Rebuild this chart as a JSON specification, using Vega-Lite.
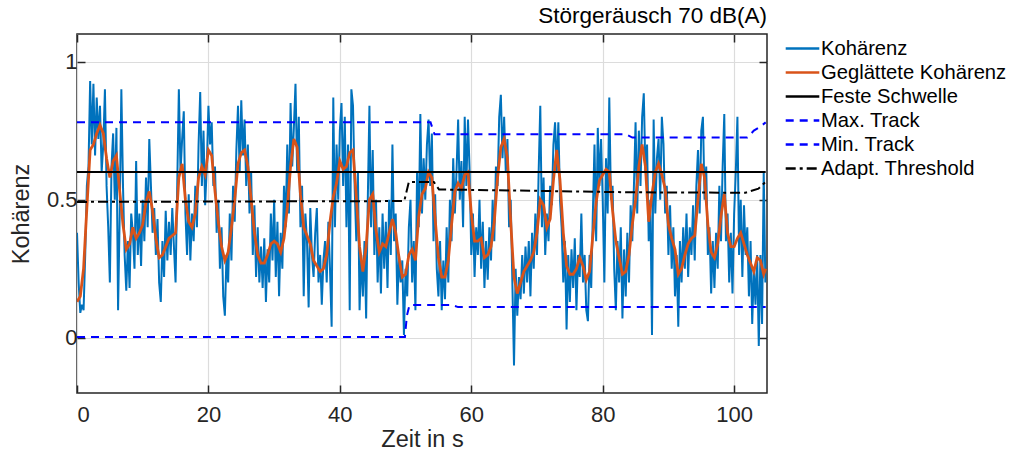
{
"$schema": "https://vega.github.io/schema/vega-lite/v6.json",
"width": 690, "height": 359,
"autosize": {"type": "none"},
"padding": {"left": 77, "top": 34, "right": 244, "bottom": 59},
"background": "white",
"title": {"text": "Störgeräusch 70 dB(A)", "anchor": "end", "frame": "group", "fontSize": 22.5, "fontWeight": "normal", "font": "Liberation Sans", "color": "#000000", "offset": 6},
"config": {
  "font": "Liberation Sans",
  "view": {"stroke": "#262626", "strokeWidth": 1.5},
  "axis": {"labelFont": "Liberation Sans", "titleFont": "Liberation Sans", "labelColor": "#262626", "titleColor": "#262626", "labelFontSize": 22, "titleFontSize": 23.5, "titleFontWeight": "normal", "tickColor": "#262626", "tickWidth": 1.5, "domain": false, "gridColor": "#dcdcdc", "gridWidth": 1.2, "gridOpacity": 1},
  "legend": {"title": null, "orient": "none", "legendX": 712, "legendY": 1, "symbolType": "M-1.4,0H1.4", "symbolSize": 576, "symbolStrokeWidth": 2.4, "labelFontSize": 20.2, "labelFont": "Liberation Sans", "labelColor": "#000000", "labelOffset": 5, "rowPadding": 0, "padding": 0, "labelLimit": 300}
},
"data": {"values": [
{"s":"Kohärenz","t":0,"v":0.38},{"s":"Kohärenz","t":0.25,"v":0.20},{"s":"Kohärenz","t":0.5,"v":0.09},{"s":"Kohärenz","t":0.75,"v":0.12},
{"s":"Kohärenz","t":1,"v":0.10},{"s":"Kohärenz","t":1.25,"v":0.30},{"s":"Kohärenz","t":1.5,"v":0.55},{"s":"Kohärenz","t":1.75,"v":0.62},
{"s":"Kohärenz","t":2,"v":0.93},{"s":"Kohärenz","t":2.25,"v":0.70},{"s":"Kohärenz","t":2.5,"v":0.92},{"s":"Kohärenz","t":2.75,"v":0.66},
{"s":"Kohärenz","t":3,"v":0.87},{"s":"Kohärenz","t":3.25,"v":0.72},{"s":"Kohärenz","t":3.5,"v":0.84},{"s":"Kohärenz","t":3.75,"v":0.60},
{"s":"Kohärenz","t":4,"v":0.70},{"s":"Kohärenz","t":4.25,"v":0.90},{"s":"Kohärenz","t":4.5,"v":0.55},{"s":"Kohärenz","t":4.75,"v":0.40},
{"s":"Kohärenz","t":5,"v":0.20},{"s":"Kohärenz","t":5.25,"v":0.62},{"s":"Kohärenz","t":5.5,"v":0.74},{"s":"Kohärenz","t":5.75,"v":0.50},
{"s":"Kohärenz","t":6,"v":0.76},{"s":"Kohärenz","t":6.25,"v":0.10},{"s":"Kohärenz","t":6.5,"v":0.45},{"s":"Kohärenz","t":6.75,"v":0.90},
{"s":"Kohärenz","t":7,"v":0.55},{"s":"Kohärenz","t":7.25,"v":0.30},{"s":"Kohärenz","t":7.5,"v":0.17},{"s":"Kohärenz","t":7.75,"v":0.35},
{"s":"Kohärenz","t":8,"v":0.18},{"s":"Kohärenz","t":8.25,"v":0.45},{"s":"Kohärenz","t":8.5,"v":0.38},{"s":"Kohärenz","t":8.75,"v":0.25},
{"s":"Kohärenz","t":9,"v":0.64},{"s":"Kohärenz","t":9.25,"v":0.30},{"s":"Kohärenz","t":9.5,"v":0.45},{"s":"Kohärenz","t":9.75,"v":0.26},
{"s":"Kohärenz","t":10,"v":0.50},{"s":"Kohärenz","t":10.25,"v":0.35},{"s":"Kohärenz","t":10.5,"v":0.58},{"s":"Kohärenz","t":10.75,"v":0.40},
{"s":"Kohärenz","t":11,"v":0.72},{"s":"Kohärenz","t":11.25,"v":0.55},{"s":"Kohärenz","t":11.5,"v":0.38},{"s":"Kohärenz","t":11.75,"v":0.47},
{"s":"Kohärenz","t":12,"v":0.30},{"s":"Kohärenz","t":12.25,"v":0.43},{"s":"Kohärenz","t":12.5,"v":0.20},{"s":"Kohärenz","t":12.75,"v":0.13},
{"s":"Kohärenz","t":13,"v":0.35},{"s":"Kohärenz","t":13.25,"v":0.22},{"s":"Kohärenz","t":13.5,"v":0.46},{"s":"Kohärenz","t":13.75,"v":0.28},
{"s":"Kohärenz","t":14,"v":0.42},{"s":"Kohärenz","t":14.25,"v":0.30},{"s":"Kohärenz","t":14.5,"v":0.47},{"s":"Kohärenz","t":14.75,"v":0.33},
{"s":"Kohärenz","t":15,"v":0.20},{"s":"Kohärenz","t":15.25,"v":0.55},{"s":"Kohärenz","t":15.5,"v":0.90},{"s":"Kohärenz","t":15.75,"v":0.60},
{"s":"Kohärenz","t":16,"v":0.72},{"s":"Kohärenz","t":16.25,"v":0.82},{"s":"Kohärenz","t":16.5,"v":0.45},{"s":"Kohärenz","t":16.75,"v":0.30},
{"s":"Kohärenz","t":17,"v":0.52},{"s":"Kohärenz","t":17.25,"v":0.28},{"s":"Kohärenz","t":17.5,"v":0.45},{"s":"Kohärenz","t":17.75,"v":0.35},
{"s":"Kohärenz","t":18,"v":0.55},{"s":"Kohärenz","t":18.25,"v":0.40},{"s":"Kohärenz","t":18.5,"v":0.70},{"s":"Kohärenz","t":18.75,"v":0.89},
{"s":"Kohärenz","t":19,"v":0.55},{"s":"Kohärenz","t":19.25,"v":0.75},{"s":"Kohärenz","t":19.5,"v":0.48},{"s":"Kohärenz","t":19.75,"v":0.62},
{"s":"Kohärenz","t":20,"v":0.84},{"s":"Kohärenz","t":20.25,"v":0.70},{"s":"Kohärenz","t":20.5,"v":0.78},{"s":"Kohärenz","t":20.75,"v":0.55},
{"s":"Kohärenz","t":21,"v":0.62},{"s":"Kohärenz","t":21.25,"v":0.38},{"s":"Kohärenz","t":21.5,"v":0.50},{"s":"Kohärenz","t":21.75,"v":0.25},
{"s":"Kohärenz","t":22,"v":0.40},{"s":"Kohärenz","t":22.25,"v":0.15},{"s":"Kohärenz","t":22.5,"v":0.08},{"s":"Kohärenz","t":22.75,"v":0.30},
{"s":"Kohärenz","t":23,"v":0.20},{"s":"Kohärenz","t":23.25,"v":0.45},{"s":"Kohärenz","t":23.5,"v":0.28},{"s":"Kohärenz","t":23.75,"v":0.55},
{"s":"Kohärenz","t":24,"v":0.42},{"s":"Kohärenz","t":24.25,"v":0.68},{"s":"Kohärenz","t":24.5,"v":0.84},{"s":"Kohärenz","t":24.75,"v":0.60},
{"s":"Kohärenz","t":25,"v":0.86},{"s":"Kohärenz","t":25.25,"v":0.66},{"s":"Kohärenz","t":25.5,"v":0.79},{"s":"Kohärenz","t":25.75,"v":0.55},
{"s":"Kohärenz","t":26,"v":0.70},{"s":"Kohärenz","t":26.25,"v":0.45},{"s":"Kohärenz","t":26.5,"v":0.60},{"s":"Kohärenz","t":26.75,"v":0.30},
{"s":"Kohärenz","t":27,"v":0.48},{"s":"Kohärenz","t":27.25,"v":0.22},{"s":"Kohärenz","t":27.5,"v":0.40},{"s":"Kohärenz","t":27.75,"v":0.20},
{"s":"Kohärenz","t":28,"v":0.33},{"s":"Kohärenz","t":28.25,"v":0.18},{"s":"Kohärenz","t":28.5,"v":0.36},{"s":"Kohärenz","t":28.75,"v":0.13},
{"s":"Kohärenz","t":29,"v":0.32},{"s":"Kohärenz","t":29.25,"v":0.20},{"s":"Kohärenz","t":29.5,"v":0.45},{"s":"Kohärenz","t":29.75,"v":0.28},
{"s":"Kohärenz","t":30,"v":0.50},{"s":"Kohärenz","t":30.25,"v":0.22},{"s":"Kohärenz","t":30.5,"v":0.42},{"s":"Kohärenz","t":30.75,"v":0.15},
{"s":"Kohärenz","t":31,"v":0.38},{"s":"Kohärenz","t":31.25,"v":0.25},{"s":"Kohärenz","t":31.5,"v":0.55},{"s":"Kohärenz","t":31.75,"v":0.40},
{"s":"Kohärenz","t":32,"v":0.70},{"s":"Kohärenz","t":32.25,"v":0.45},{"s":"Kohärenz","t":32.5,"v":0.85},{"s":"Kohärenz","t":32.75,"v":0.62},
{"s":"Kohärenz","t":33,"v":0.76},{"s":"Kohärenz","t":33.25,"v":0.92},{"s":"Kohärenz","t":33.5,"v":0.60},{"s":"Kohärenz","t":33.75,"v":0.80},
{"s":"Kohärenz","t":34,"v":0.40},{"s":"Kohärenz","t":34.25,"v":0.55},{"s":"Kohärenz","t":34.5,"v":0.15},{"s":"Kohärenz","t":34.75,"v":0.45},
{"s":"Kohärenz","t":35,"v":0.35},{"s":"Kohärenz","t":35.25,"v":0.11},{"s":"Kohärenz","t":35.5,"v":0.47},{"s":"Kohärenz","t":35.75,"v":0.30},
{"s":"Kohärenz","t":36,"v":0.22},{"s":"Kohärenz","t":36.25,"v":0.38},{"s":"Kohärenz","t":36.5,"v":0.47},{"s":"Kohärenz","t":36.75,"v":0.20},
{"s":"Kohärenz","t":37,"v":0.30},{"s":"Kohärenz","t":37.25,"v":0.12},{"s":"Kohärenz","t":37.5,"v":0.28},{"s":"Kohärenz","t":37.75,"v":0.35},
{"s":"Kohärenz","t":38,"v":0.20},{"s":"Kohärenz","t":38.25,"v":0.42},{"s":"Kohärenz","t":38.5,"v":0.25},{"s":"Kohärenz","t":38.75,"v":0.04},
{"s":"Kohärenz","t":39,"v":0.87},{"s":"Kohärenz","t":39.25,"v":0.40},{"s":"Kohärenz","t":39.5,"v":0.70},{"s":"Kohärenz","t":39.75,"v":0.50},
{"s":"Kohärenz","t":40,"v":0.75},{"s":"Kohärenz","t":40.25,"v":0.85},{"s":"Kohärenz","t":40.5,"v":0.55},{"s":"Kohärenz","t":40.75,"v":0.80},
{"s":"Kohärenz","t":41,"v":0.40},{"s":"Kohärenz","t":41.25,"v":0.70},{"s":"Kohärenz","t":41.5,"v":0.10},{"s":"Kohärenz","t":41.75,"v":0.90},
{"s":"Kohärenz","t":42,"v":0.84},{"s":"Kohärenz","t":42.25,"v":0.55},{"s":"Kohärenz","t":42.5,"v":0.35},{"s":"Kohärenz","t":42.75,"v":0.60},
{"s":"Kohärenz","t":43,"v":0.10},{"s":"Kohärenz","t":43.25,"v":0.30},{"s":"Kohärenz","t":43.5,"v":0.15},{"s":"Kohärenz","t":43.75,"v":0.35},
{"s":"Kohärenz","t":44,"v":0.07},{"s":"Kohärenz","t":44.25,"v":0.50},{"s":"Kohärenz","t":44.5,"v":0.84},{"s":"Kohärenz","t":44.75,"v":0.40},
{"s":"Kohärenz","t":45,"v":0.68},{"s":"Kohärenz","t":45.25,"v":0.30},{"s":"Kohärenz","t":45.5,"v":0.50},{"s":"Kohärenz","t":45.75,"v":0.20},
{"s":"Kohärenz","t":46,"v":0.40},{"s":"Kohärenz","t":46.25,"v":0.16},{"s":"Kohärenz","t":46.5,"v":0.45},{"s":"Kohärenz","t":46.75,"v":0.25},
{"s":"Kohärenz","t":47,"v":0.42},{"s":"Kohärenz","t":47.25,"v":0.18},{"s":"Kohärenz","t":47.5,"v":0.50},{"s":"Kohärenz","t":47.75,"v":0.30},
{"s":"Kohärenz","t":48,"v":0.70},{"s":"Kohärenz","t":48.25,"v":0.35},{"s":"Kohärenz","t":48.5,"v":0.45},{"s":"Kohärenz","t":48.75,"v":0.12},
{"s":"Kohärenz","t":49,"v":0.30},{"s":"Kohärenz","t":49.25,"v":0.20},{"s":"Kohärenz","t":49.5,"v":0.28},{"s":"Kohärenz","t":49.75,"v":0.01},
{"s":"Kohärenz","t":50,"v":0.25},{"s":"Kohärenz","t":50.25,"v":0.15},{"s":"Kohärenz","t":50.5,"v":0.40},{"s":"Kohärenz","t":50.75,"v":0.50},
{"s":"Kohärenz","t":51,"v":0.20},{"s":"Kohärenz","t":51.25,"v":0.35},{"s":"Kohärenz","t":51.5,"v":0.10},{"s":"Kohärenz","t":51.75,"v":0.60},
{"s":"Kohärenz","t":52,"v":0.40},{"s":"Kohärenz","t":52.25,"v":0.81},{"s":"Kohärenz","t":52.5,"v":0.45},{"s":"Kohärenz","t":52.75,"v":0.65},
{"s":"Kohärenz","t":53,"v":0.50},{"s":"Kohärenz","t":53.25,"v":0.70},{"s":"Kohärenz","t":53.5,"v":0.79},{"s":"Kohärenz","t":53.75,"v":0.55},
{"s":"Kohärenz","t":54,"v":0.74},{"s":"Kohärenz","t":54.25,"v":0.35},{"s":"Kohärenz","t":54.5,"v":0.52},{"s":"Kohärenz","t":54.75,"v":0.25},
{"s":"Kohärenz","t":55,"v":0.15},{"s":"Kohärenz","t":55.25,"v":0.35},{"s":"Kohärenz","t":55.5,"v":0.10},{"s":"Kohärenz","t":55.75,"v":0.28},
{"s":"Kohärenz","t":56,"v":0.14},{"s":"Kohärenz","t":56.25,"v":0.40},{"s":"Kohärenz","t":56.5,"v":0.20},{"s":"Kohärenz","t":56.75,"v":0.50},
{"s":"Kohärenz","t":57,"v":0.35},{"s":"Kohärenz","t":57.25,"v":0.65},{"s":"Kohärenz","t":57.5,"v":0.45},{"s":"Kohärenz","t":57.75,"v":0.60},
{"s":"Kohärenz","t":58,"v":0.79},{"s":"Kohärenz","t":58.25,"v":0.50},{"s":"Kohärenz","t":58.5,"v":0.64},{"s":"Kohärenz","t":58.75,"v":0.40},
{"s":"Kohärenz","t":59,"v":0.80},{"s":"Kohärenz","t":59.25,"v":0.55},{"s":"Kohärenz","t":59.5,"v":0.79},{"s":"Kohärenz","t":59.75,"v":0.60},
{"s":"Kohärenz","t":60,"v":0.30},{"s":"Kohärenz","t":60.25,"v":0.45},{"s":"Kohärenz","t":60.5,"v":0.22},{"s":"Kohärenz","t":60.75,"v":0.40},
{"s":"Kohärenz","t":61,"v":0.30},{"s":"Kohärenz","t":61.25,"v":0.50},{"s":"Kohärenz","t":61.5,"v":0.25},{"s":"Kohärenz","t":61.75,"v":0.42},
{"s":"Kohärenz","t":62,"v":0.18},{"s":"Kohärenz","t":62.25,"v":0.35},{"s":"Kohärenz","t":62.5,"v":0.21},{"s":"Kohärenz","t":62.75,"v":0.40},
{"s":"Kohärenz","t":63,"v":0.28},{"s":"Kohärenz","t":63.25,"v":0.50},{"s":"Kohärenz","t":63.5,"v":0.35},{"s":"Kohärenz","t":63.75,"v":0.62},
{"s":"Kohärenz","t":64,"v":0.55},{"s":"Kohärenz","t":64.25,"v":0.80},{"s":"Kohärenz","t":64.5,"v":0.88},{"s":"Kohärenz","t":64.75,"v":0.65},
{"s":"Kohärenz","t":65,"v":0.80},{"s":"Kohärenz","t":65.25,"v":0.60},{"s":"Kohärenz","t":65.5,"v":0.72},{"s":"Kohärenz","t":65.75,"v":0.40},
{"s":"Kohärenz","t":66,"v":0.50},{"s":"Kohärenz","t":66.25,"v":0.20},{"s":"Kohärenz","t":66.5,"v":-0.10},{"s":"Kohärenz","t":66.75,"v":0.25},
{"s":"Kohärenz","t":67,"v":0.08},{"s":"Kohärenz","t":67.25,"v":0.22},{"s":"Kohärenz","t":67.5,"v":0.14},{"s":"Kohärenz","t":67.75,"v":0.30},
{"s":"Kohärenz","t":68,"v":0.16},{"s":"Kohärenz","t":68.25,"v":0.33},{"s":"Kohärenz","t":68.5,"v":0.20},{"s":"Kohärenz","t":68.75,"v":0.35},
{"s":"Kohärenz","t":69,"v":0.15},{"s":"Kohärenz","t":69.25,"v":0.38},{"s":"Kohärenz","t":69.5,"v":0.25},{"s":"Kohärenz","t":69.75,"v":0.45},
{"s":"Kohärenz","t":70,"v":0.30},{"s":"Kohärenz","t":70.25,"v":0.60},{"s":"Kohärenz","t":70.5,"v":0.84},{"s":"Kohärenz","t":70.75,"v":0.40},
{"s":"Kohärenz","t":71,"v":0.58},{"s":"Kohärenz","t":71.25,"v":0.30},{"s":"Kohärenz","t":71.5,"v":0.45},{"s":"Kohärenz","t":71.75,"v":0.35},
{"s":"Kohärenz","t":72,"v":0.55},{"s":"Kohärenz","t":72.25,"v":0.48},{"s":"Kohärenz","t":72.5,"v":0.70},{"s":"Kohärenz","t":72.75,"v":0.78},
{"s":"Kohärenz","t":73,"v":0.60},{"s":"Kohärenz","t":73.25,"v":0.78},{"s":"Kohärenz","t":73.5,"v":0.50},{"s":"Kohärenz","t":73.75,"v":0.40},
{"s":"Kohärenz","t":74,"v":0.20},{"s":"Kohärenz","t":74.25,"v":0.35},{"s":"Kohärenz","t":74.5,"v":0.03},{"s":"Kohärenz","t":74.75,"v":0.30},
{"s":"Kohärenz","t":75,"v":0.13},{"s":"Kohärenz","t":75.25,"v":0.32},{"s":"Kohärenz","t":75.5,"v":0.18},{"s":"Kohärenz","t":75.75,"v":0.36},
{"s":"Kohärenz","t":76,"v":0.10},{"s":"Kohärenz","t":76.25,"v":0.30},{"s":"Kohärenz","t":76.5,"v":0.22},{"s":"Kohärenz","t":76.75,"v":0.45},
{"s":"Kohärenz","t":77,"v":0.20},{"s":"Kohärenz","t":77.25,"v":0.30},{"s":"Kohärenz","t":77.5,"v":0.10},{"s":"Kohärenz","t":77.75,"v":0.06},
{"s":"Kohärenz","t":78,"v":0.30},{"s":"Kohärenz","t":78.25,"v":0.18},{"s":"Kohärenz","t":78.5,"v":0.45},{"s":"Kohärenz","t":78.75,"v":0.70},
{"s":"Kohärenz","t":79,"v":0.35},{"s":"Kohärenz","t":79.25,"v":0.76},{"s":"Kohärenz","t":79.5,"v":0.55},{"s":"Kohärenz","t":79.75,"v":0.72},
{"s":"Kohärenz","t":80,"v":0.50},{"s":"Kohärenz","t":80.25,"v":0.20},{"s":"Kohärenz","t":80.5,"v":0.65},{"s":"Kohärenz","t":80.75,"v":0.45},
{"s":"Kohärenz","t":81,"v":0.87},{"s":"Kohärenz","t":81.25,"v":0.50},{"s":"Kohärenz","t":81.5,"v":0.55},{"s":"Kohärenz","t":81.75,"v":0.25},
{"s":"Kohärenz","t":82,"v":0.10},{"s":"Kohärenz","t":82.25,"v":0.35},{"s":"Kohärenz","t":82.5,"v":0.20},{"s":"Kohärenz","t":82.75,"v":0.40},
{"s":"Kohärenz","t":83,"v":0.07},{"s":"Kohärenz","t":83.25,"v":0.32},{"s":"Kohärenz","t":83.5,"v":0.15},{"s":"Kohärenz","t":83.75,"v":0.38},
{"s":"Kohärenz","t":84,"v":0.20},{"s":"Kohärenz","t":84.25,"v":0.48},{"s":"Kohärenz","t":84.5,"v":0.35},{"s":"Kohärenz","t":84.75,"v":0.55},
{"s":"Kohärenz","t":85,"v":0.78},{"s":"Kohärenz","t":85.25,"v":0.45},{"s":"Kohärenz","t":85.5,"v":0.75},{"s":"Kohärenz","t":85.75,"v":0.55},
{"s":"Kohärenz","t":86,"v":0.80},{"s":"Kohärenz","t":86.25,"v":0.885},{"s":"Kohärenz","t":86.5,"v":0.60},{"s":"Kohärenz","t":86.75,"v":0.70},
{"s":"Kohärenz","t":87,"v":0.35},{"s":"Kohärenz","t":87.25,"v":0.50},{"s":"Kohärenz","t":87.5,"v":0.01},{"s":"Kohärenz","t":87.75,"v":0.79},
{"s":"Kohärenz","t":88,"v":0.45},{"s":"Kohärenz","t":88.25,"v":0.65},{"s":"Kohärenz","t":88.5,"v":0.72},{"s":"Kohärenz","t":88.75,"v":0.50},
{"s":"Kohärenz","t":89,"v":0.80},{"s":"Kohärenz","t":89.25,"v":0.70},{"s":"Kohärenz","t":89.5,"v":0.45},{"s":"Kohärenz","t":89.75,"v":0.55},
{"s":"Kohärenz","t":90,"v":0.30},{"s":"Kohärenz","t":90.25,"v":0.48},{"s":"Kohärenz","t":90.5,"v":0.25},{"s":"Kohärenz","t":90.75,"v":0.40},
{"s":"Kohärenz","t":91,"v":0.15},{"s":"Kohärenz","t":91.25,"v":0.30},{"s":"Kohärenz","t":91.5,"v":0.04},{"s":"Kohärenz","t":91.75,"v":0.35},
{"s":"Kohärenz","t":92,"v":0.20},{"s":"Kohärenz","t":92.25,"v":0.40},{"s":"Kohärenz","t":92.5,"v":0.25},{"s":"Kohärenz","t":92.75,"v":0.45},
{"s":"Kohärenz","t":93,"v":0.22},{"s":"Kohärenz","t":93.25,"v":0.40},{"s":"Kohärenz","t":93.5,"v":0.30},{"s":"Kohärenz","t":93.75,"v":0.48},
{"s":"Kohärenz","t":94,"v":0.28},{"s":"Kohärenz","t":94.25,"v":0.55},{"s":"Kohärenz","t":94.5,"v":0.68},{"s":"Kohärenz","t":94.75,"v":0.45},
{"s":"Kohärenz","t":95,"v":0.75},{"s":"Kohärenz","t":95.25,"v":0.80},{"s":"Kohärenz","t":95.5,"v":0.50},{"s":"Kohärenz","t":95.75,"v":0.62},
{"s":"Kohärenz","t":96,"v":0.30},{"s":"Kohärenz","t":96.25,"v":0.40},{"s":"Kohärenz","t":96.5,"v":0.16},{"s":"Kohärenz","t":96.75,"v":0.35},
{"s":"Kohärenz","t":97,"v":0.18},{"s":"Kohärenz","t":97.25,"v":0.38},{"s":"Kohärenz","t":97.5,"v":0.25},{"s":"Kohärenz","t":97.75,"v":0.55},
{"s":"Kohärenz","t":98,"v":0.35},{"s":"Kohärenz","t":98.25,"v":0.62},{"s":"Kohärenz","t":98.5,"v":0.81},{"s":"Kohärenz","t":98.75,"v":0.35},
{"s":"Kohärenz","t":99,"v":0.45},{"s":"Kohärenz","t":99.25,"v":0.20},{"s":"Kohärenz","t":99.5,"v":0.38},{"s":"Kohärenz","t":99.75,"v":0.16},
{"s":"Kohärenz","t":100,"v":0.45},{"s":"Kohärenz","t":100.25,"v":0.60},{"s":"Kohärenz","t":100.5,"v":0.80},{"s":"Kohärenz","t":100.75,"v":0.30},
{"s":"Kohärenz","t":101,"v":0.50},{"s":"Kohärenz","t":101.25,"v":0.22},{"s":"Kohärenz","t":101.5,"v":0.48},{"s":"Kohärenz","t":101.75,"v":0.30},
{"s":"Kohärenz","t":102,"v":0.40},{"s":"Kohärenz","t":102.25,"v":0.15},{"s":"Kohärenz","t":102.5,"v":0.35},{"s":"Kohärenz","t":102.75,"v":0.05},
{"s":"Kohärenz","t":103,"v":0.25},{"s":"Kohärenz","t":103.25,"v":0.12},{"s":"Kohärenz","t":103.5,"v":0.30},{"s":"Kohärenz","t":103.75,"v":-0.03},
{"s":"Kohärenz","t":104,"v":0.30},{"s":"Kohärenz","t":104.25,"v":0.05},{"s":"Kohärenz","t":104.5,"v":0.60},{"s":"Kohärenz","t":104.75,"v":0.20},
{"s":"Geglättete Kohärenz","t":0,"v":0.13},{"s":"Geglättete Kohärenz","t":0.5,"v":0.15},{"s":"Geglättete Kohärenz","t":1,"v":0.25},{"s":"Geglättete Kohärenz","t":1.5,"v":0.47},
{"s":"Geglättete Kohärenz","t":2,"v":0.68},{"s":"Geglättete Kohärenz","t":2.5,"v":0.70},{"s":"Geglättete Kohärenz","t":3,"v":0.74},{"s":"Geglättete Kohärenz","t":3.5,"v":0.77},
{"s":"Geglättete Kohärenz","t":4,"v":0.74},{"s":"Geglättete Kohärenz","t":4.5,"v":0.65},{"s":"Geglättete Kohärenz","t":5,"v":0.58},{"s":"Geglättete Kohärenz","t":5.5,"v":0.64},
{"s":"Geglättete Kohärenz","t":6,"v":0.66},{"s":"Geglättete Kohärenz","t":6.5,"v":0.53},{"s":"Geglättete Kohärenz","t":7,"v":0.41},{"s":"Geglättete Kohärenz","t":7.5,"v":0.32},
{"s":"Geglättete Kohärenz","t":8,"v":0.34},{"s":"Geglättete Kohärenz","t":8.5,"v":0.40},{"s":"Geglättete Kohärenz","t":9,"v":0.36},{"s":"Geglättete Kohärenz","t":9.5,"v":0.38},
{"s":"Geglättete Kohärenz","t":10,"v":0.41},{"s":"Geglättete Kohärenz","t":10.5,"v":0.49},{"s":"Geglättete Kohärenz","t":11,"v":0.53},{"s":"Geglättete Kohärenz","t":11.5,"v":0.46},
{"s":"Geglättete Kohärenz","t":12,"v":0.36},{"s":"Geglättete Kohärenz","t":12.5,"v":0.29},{"s":"Geglättete Kohärenz","t":13,"v":0.30},{"s":"Geglättete Kohärenz","t":13.5,"v":0.33},
{"s":"Geglättete Kohärenz","t":14,"v":0.36},{"s":"Geglättete Kohärenz","t":14.5,"v":0.37},{"s":"Geglättete Kohärenz","t":15,"v":0.38},{"s":"Geglättete Kohärenz","t":15.5,"v":0.58},
{"s":"Geglättete Kohärenz","t":16,"v":0.63},{"s":"Geglättete Kohärenz","t":16.5,"v":0.50},{"s":"Geglättete Kohärenz","t":17,"v":0.42},{"s":"Geglättete Kohärenz","t":17.5,"v":0.40},
{"s":"Geglättete Kohärenz","t":18,"v":0.45},{"s":"Geglättete Kohärenz","t":18.5,"v":0.58},{"s":"Geglättete Kohärenz","t":19,"v":0.62},{"s":"Geglättete Kohärenz","t":19.5,"v":0.59},
{"s":"Geglättete Kohärenz","t":20,"v":0.68},{"s":"Geglättete Kohärenz","t":20.5,"v":0.66},{"s":"Geglättete Kohärenz","t":21,"v":0.53},{"s":"Geglättete Kohärenz","t":21.5,"v":0.42},
{"s":"Geglättete Kohärenz","t":22,"v":0.33},{"s":"Geglättete Kohärenz","t":22.5,"v":0.28},{"s":"Geglättete Kohärenz","t":23,"v":0.31},{"s":"Geglättete Kohärenz","t":23.5,"v":0.40},
{"s":"Geglättete Kohärenz","t":24,"v":0.50},{"s":"Geglättete Kohärenz","t":24.5,"v":0.63},{"s":"Geglättete Kohärenz","t":25,"v":0.67},{"s":"Geglättete Kohärenz","t":25.5,"v":0.68},
{"s":"Geglättete Kohärenz","t":26,"v":0.62},{"s":"Geglättete Kohärenz","t":26.5,"v":0.50},{"s":"Geglättete Kohärenz","t":27,"v":0.38},{"s":"Geglättete Kohärenz","t":27.5,"v":0.30},
{"s":"Geglättete Kohärenz","t":28,"v":0.27},{"s":"Geglättete Kohärenz","t":28.5,"v":0.27},{"s":"Geglättete Kohärenz","t":29,"v":0.30},{"s":"Geglättete Kohärenz","t":29.5,"v":0.34},
{"s":"Geglättete Kohärenz","t":30,"v":0.35},{"s":"Geglättete Kohärenz","t":30.5,"v":0.34},{"s":"Geglättete Kohärenz","t":31,"v":0.31},{"s":"Geglättete Kohärenz","t":31.5,"v":0.36},
{"s":"Geglättete Kohärenz","t":32,"v":0.47},{"s":"Geglättete Kohärenz","t":32.5,"v":0.62},{"s":"Geglättete Kohärenz","t":33,"v":0.72},{"s":"Geglättete Kohärenz","t":33.5,"v":0.69},
{"s":"Geglättete Kohärenz","t":34,"v":0.52},{"s":"Geglättete Kohärenz","t":34.5,"v":0.40},{"s":"Geglättete Kohärenz","t":35,"v":0.37},{"s":"Geglättete Kohärenz","t":35.5,"v":0.34},
{"s":"Geglättete Kohärenz","t":36,"v":0.28},{"s":"Geglättete Kohärenz","t":36.5,"v":0.26},{"s":"Geglättete Kohärenz","t":37,"v":0.24},{"s":"Geglättete Kohärenz","t":37.5,"v":0.25},
{"s":"Geglättete Kohärenz","t":38,"v":0.30},{"s":"Geglättete Kohärenz","t":38.5,"v":0.42},{"s":"Geglättete Kohärenz","t":39,"v":0.51},{"s":"Geglättete Kohärenz","t":39.5,"v":0.56},
{"s":"Geglättete Kohärenz","t":40,"v":0.64},{"s":"Geglättete Kohärenz","t":40.5,"v":0.61},{"s":"Geglättete Kohärenz","t":41,"v":0.62},{"s":"Geglättete Kohärenz","t":41.5,"v":0.67},
{"s":"Geglättete Kohärenz","t":42,"v":0.68},{"s":"Geglättete Kohärenz","t":42.5,"v":0.51},{"s":"Geglättete Kohärenz","t":43,"v":0.33},{"s":"Geglättete Kohärenz","t":43.5,"v":0.24},
{"s":"Geglättete Kohärenz","t":44,"v":0.33},{"s":"Geglättete Kohärenz","t":44.5,"v":0.50},{"s":"Geglättete Kohärenz","t":45,"v":0.52},{"s":"Geglättete Kohärenz","t":45.5,"v":0.39},
{"s":"Geglättete Kohärenz","t":46,"v":0.31},{"s":"Geglättete Kohärenz","t":46.5,"v":0.34},{"s":"Geglättete Kohärenz","t":47,"v":0.33},{"s":"Geglättete Kohärenz","t":47.5,"v":0.38},
{"s":"Geglättete Kohärenz","t":48,"v":0.43},{"s":"Geglättete Kohärenz","t":48.5,"v":0.38},{"s":"Geglättete Kohärenz","t":49,"v":0.29},{"s":"Geglättete Kohärenz","t":49.5,"v":0.22},
{"s":"Geglättete Kohärenz","t":50,"v":0.23},{"s":"Geglättete Kohärenz","t":50.5,"v":0.30},{"s":"Geglättete Kohärenz","t":51,"v":0.32},{"s":"Geglättete Kohärenz","t":51.5,"v":0.28},
{"s":"Geglättete Kohärenz","t":52,"v":0.44},{"s":"Geglättete Kohärenz","t":52.5,"v":0.52},{"s":"Geglättete Kohärenz","t":53,"v":0.54},{"s":"Geglättete Kohärenz","t":53.5,"v":0.60},
{"s":"Geglättete Kohärenz","t":54,"v":0.58},{"s":"Geglättete Kohärenz","t":54.5,"v":0.43},{"s":"Geglättete Kohärenz","t":55,"v":0.29},{"s":"Geglättete Kohärenz","t":55.5,"v":0.22},
{"s":"Geglättete Kohärenz","t":56,"v":0.22},{"s":"Geglättete Kohärenz","t":56.5,"v":0.28},{"s":"Geglättete Kohärenz","t":57,"v":0.41},{"s":"Geglättete Kohärenz","t":57.5,"v":0.53},
{"s":"Geglättete Kohärenz","t":58,"v":0.56},{"s":"Geglättete Kohärenz","t":58.5,"v":0.54},{"s":"Geglättete Kohärenz","t":59,"v":0.59},{"s":"Geglättete Kohärenz","t":59.5,"v":0.60},
{"s":"Geglättete Kohärenz","t":60,"v":0.45},{"s":"Geglättete Kohärenz","t":60.5,"v":0.35},{"s":"Geglättete Kohärenz","t":61,"v":0.35},{"s":"Geglättete Kohärenz","t":61.5,"v":0.36},
{"s":"Geglättete Kohärenz","t":62,"v":0.29},{"s":"Geglättete Kohärenz","t":62.5,"v":0.30},{"s":"Geglättete Kohärenz","t":63,"v":0.33},{"s":"Geglättete Kohärenz","t":63.5,"v":0.42},
{"s":"Geglättete Kohärenz","t":64,"v":0.58},{"s":"Geglättete Kohärenz","t":64.5,"v":0.69},{"s":"Geglättete Kohärenz","t":65,"v":0.72},{"s":"Geglättete Kohärenz","t":65.5,"v":0.65},
{"s":"Geglättete Kohärenz","t":66,"v":0.42},{"s":"Geglättete Kohärenz","t":66.5,"v":0.22},{"s":"Geglättete Kohärenz","t":67,"v":0.16},{"s":"Geglättete Kohärenz","t":67.5,"v":0.20},
{"s":"Geglättete Kohärenz","t":68,"v":0.24},{"s":"Geglättete Kohärenz","t":68.5,"v":0.26},{"s":"Geglättete Kohärenz","t":69,"v":0.28},{"s":"Geglättete Kohärenz","t":69.5,"v":0.31},
{"s":"Geglättete Kohärenz","t":70,"v":0.38},{"s":"Geglättete Kohärenz","t":70.5,"v":0.50},{"s":"Geglättete Kohärenz","t":71,"v":0.48},{"s":"Geglättete Kohärenz","t":71.5,"v":0.40},
{"s":"Geglättete Kohärenz","t":72,"v":0.43},{"s":"Geglättete Kohärenz","t":72.5,"v":0.57},{"s":"Geglättete Kohärenz","t":73,"v":0.68},{"s":"Geglättete Kohärenz","t":73.5,"v":0.57},
{"s":"Geglättete Kohärenz","t":74,"v":0.38},{"s":"Geglättete Kohärenz","t":74.5,"v":0.26},{"s":"Geglättete Kohärenz","t":75,"v":0.23},{"s":"Geglättete Kohärenz","t":75.5,"v":0.23},
{"s":"Geglättete Kohärenz","t":76,"v":0.25},{"s":"Geglättete Kohärenz","t":76.5,"v":0.29},{"s":"Geglättete Kohärenz","t":77,"v":0.26},{"s":"Geglättete Kohärenz","t":77.5,"v":0.21},
{"s":"Geglättete Kohärenz","t":78,"v":0.24},{"s":"Geglättete Kohärenz","t":78.5,"v":0.37},{"s":"Geglättete Kohärenz","t":79,"v":0.49},{"s":"Geglättete Kohärenz","t":79.5,"v":0.57},
{"s":"Geglättete Kohärenz","t":80,"v":0.59},{"s":"Geglättete Kohärenz","t":80.5,"v":0.61},{"s":"Geglättete Kohärenz","t":81,"v":0.60},{"s":"Geglättete Kohärenz","t":81.5,"v":0.46},
{"s":"Geglättete Kohärenz","t":82,"v":0.35},{"s":"Geglättete Kohärenz","t":82.5,"v":0.29},{"s":"Geglättete Kohärenz","t":83,"v":0.23},{"s":"Geglättete Kohärenz","t":83.5,"v":0.24},
{"s":"Geglättete Kohärenz","t":84,"v":0.30},{"s":"Geglättete Kohärenz","t":84.5,"v":0.41},{"s":"Geglättete Kohärenz","t":85,"v":0.50},{"s":"Geglättete Kohärenz","t":85.5,"v":0.62},
{"s":"Geglättete Kohärenz","t":86,"v":0.70},{"s":"Geglättete Kohärenz","t":86.5,"v":0.62},{"s":"Geglättete Kohärenz","t":87,"v":0.42},{"s":"Geglättete Kohärenz","t":87.5,"v":0.52},
{"s":"Geglättete Kohärenz","t":88,"v":0.60},{"s":"Geglättete Kohärenz","t":88.5,"v":0.63},{"s":"Geglättete Kohärenz","t":89,"v":0.59},{"s":"Geglättete Kohärenz","t":89.5,"v":0.54},
{"s":"Geglättete Kohärenz","t":90,"v":0.41},{"s":"Geglättete Kohärenz","t":90.5,"v":0.36},{"s":"Geglättete Kohärenz","t":91,"v":0.32},{"s":"Geglättete Kohärenz","t":91.5,"v":0.23},
{"s":"Geglättete Kohärenz","t":92,"v":0.25},{"s":"Geglättete Kohärenz","t":92.5,"v":0.30},{"s":"Geglättete Kohärenz","t":93,"v":0.34},{"s":"Geglättete Kohärenz","t":93.5,"v":0.36},
{"s":"Geglättete Kohärenz","t":94,"v":0.37},{"s":"Geglättete Kohärenz","t":94.5,"v":0.50},{"s":"Geglättete Kohärenz","t":95,"v":0.63},{"s":"Geglättete Kohärenz","t":95.5,"v":0.58},
{"s":"Geglättete Kohärenz","t":96,"v":0.41},{"s":"Geglättete Kohärenz","t":96.5,"v":0.31},{"s":"Geglättete Kohärenz","t":97,"v":0.29},{"s":"Geglättete Kohärenz","t":97.5,"v":0.34},
{"s":"Geglättete Kohärenz","t":98,"v":0.44},{"s":"Geglättete Kohärenz","t":98.5,"v":0.52},{"s":"Geglättete Kohärenz","t":99,"v":0.38},{"s":"Geglättete Kohärenz","t":99.5,"v":0.33},
{"s":"Geglättete Kohärenz","t":100,"v":0.33},{"s":"Geglättete Kohärenz","t":100.5,"v":0.36},{"s":"Geglättete Kohärenz","t":101,"v":0.38},{"s":"Geglättete Kohärenz","t":101.5,"v":0.34},
{"s":"Geglättete Kohärenz","t":102,"v":0.30},{"s":"Geglättete Kohärenz","t":102.5,"v":0.27},{"s":"Geglättete Kohärenz","t":103,"v":0.24},{"s":"Geglättete Kohärenz","t":103.5,"v":0.29},
{"s":"Geglättete Kohärenz","t":104,"v":0.28},{"s":"Geglättete Kohärenz","t":104.5,"v":0.23},{"s":"Geglättete Kohärenz","t":104.8,"v":0.25},
{"s":"Feste Schwelle","t":0,"v":0.6},{"s":"Feste Schwelle","t":104.8,"v":0.6},
{"s":"Max. Track","t":0,"v":0.78},{"s":"Max. Track","t":53.8,"v":0.78},{"s":"Max. Track","t":54.4,"v":0.737},{"s":"Max. Track","t":83.5,"v":0.737},{"s":"Max. Track","t":84.5,"v":0.725},{"s":"Max. Track","t":102,"v":0.725},{"s":"Max. Track","t":103,"v":0.75},{"s":"Max. Track","t":104,"v":0.765},{"s":"Max. Track","t":104.8,"v":0.78},
{"s":"Min. Track","t":0,"v":0.003},{"s":"Min. Track","t":49.9,"v":0.003},{"s":"Min. Track","t":50.2,"v":0.08},{"s":"Min. Track","t":50.6,"v":0.119},{"s":"Min. Track","t":57,"v":0.119},{"s":"Min. Track","t":58,"v":0.111},{"s":"Min. Track","t":104.8,"v":0.111},
{"s":"Adapt. Threshold","t":0,"v":0.492},{"s":"Adapt. Threshold","t":49.8,"v":0.495},{"s":"Adapt. Threshold","t":50.5,"v":0.564},{"s":"Adapt. Threshold","t":54.3,"v":0.564},{"s":"Adapt. Threshold","t":55.1,"v":0.537},{"s":"Adapt. Threshold","t":70,"v":0.532},{"s":"Adapt. Threshold","t":83.5,"v":0.527},{"s":"Adapt. Threshold","t":101.7,"v":0.525},{"s":"Adapt. Threshold","t":103.7,"v":0.54},{"s":"Adapt. Threshold","t":104.8,"v":0.565}
]},
"layer": [
  {
    "encoding": {
      "x": {"field": "t", "type": "quantitative", "scale": {"domain": [0, 105], "nice": false, "zero": false},
            "axis": {"values": [0, 20, 40, 60, 80, 100], "title": "Zeit in s", "grid": true, "tickSize": -8, "labelPadding": 19, "titlePadding": 2}},
      "y": {"field": "v", "type": "quantitative", "scale": {"domain": [-0.2, 1.1], "nice": false, "zero": false},
            "axis": {"values": [0, 0.5, 1], "format": "~g", "title": "Kohärenz", "grid": true, "tickSize": -8, "labelPadding": 8, "titlePadding": 13}},
      "color": {"field": "s", "type": "nominal",
        "scale": {"domain": ["Kohärenz", "Geglättete Kohärenz", "Feste Schwelle", "Max. Track", "Min. Track", "Adapt. Threshold"], "range": ["#0072BD", "#D95319", "#000000", "#0000FF", "#0000FF", "#000000"]}},
      "strokeDash": {"field": "s", "type": "nominal",
        "scale": {"domain": ["Kohärenz", "Geglättete Kohärenz", "Feste Schwelle", "Max. Track", "Min. Track", "Adapt. Threshold"], "range": [[1, 0], [1, 0], [1, 0], [8, 6], [8, 6], [10, 4, 3, 4]]}}
    },
    "layer": [
      {"transform": [{"filter": "datum.s === 'Kohärenz'"}], "mark": {"type": "line", "strokeWidth": 2, "clip": true}},
      {"transform": [{"filter": "datum.s === 'Geglättete Kohärenz'"}], "mark": {"type": "line", "strokeWidth": 2.8, "clip": true}}
    ]
  },
  {
    "transform": [{"filter": "datum.s !== 'Kohärenz' && datum.s !== 'Geglättete Kohärenz'"}],
    "mark": {"type": "line", "strokeWidth": 2, "clip": true},
    "encoding": {
      "x": {"field": "t", "type": "quantitative", "scale": {"domain": [0, 105], "nice": false, "zero": false},
            "axis": {"orient": "top", "values": [0, 20, 40, 60, 80, 100], "title": null, "labels": false, "grid": false, "tickSize": -8}},
      "y": {"field": "v", "type": "quantitative", "scale": {"domain": [-0.2, 1.1], "nice": false, "zero": false},
            "axis": {"orient": "right", "values": [0, 0.5, 1], "title": null, "labels": false, "grid": false, "tickSize": -8}},
      "color": {"field": "s", "type": "nominal",
        "scale": {"domain": ["Kohärenz", "Geglättete Kohärenz", "Feste Schwelle", "Max. Track", "Min. Track", "Adapt. Threshold"], "range": ["#0072BD", "#D95319", "#000000", "#0000FF", "#0000FF", "#000000"]}},
      "strokeDash": {"field": "s", "type": "nominal",
        "scale": {"domain": ["Kohärenz", "Geglättete Kohärenz", "Feste Schwelle", "Max. Track", "Min. Track", "Adapt. Threshold"], "range": [[1, 0], [1, 0], [1, 0], [8, 6], [8, 6], [10, 4, 3, 4]]}}
    }
  }
],
"resolve": {"axis": {"x": "independent", "y": "independent"}}
}
